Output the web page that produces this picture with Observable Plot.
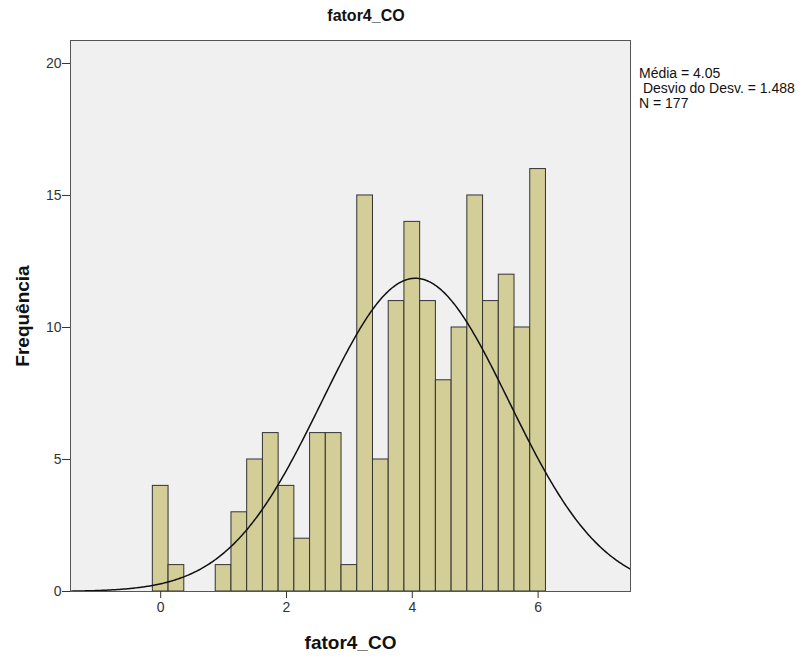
<!DOCTYPE html>
<html>
<head>
<meta charset="utf-8">
<script src="https://cdn.jsdelivr.net/npm/d3@7"></script>
<script src="https://cdn.jsdelivr.net/npm/@observablehq/plot@0.6"></script>
<style>
  body { margin: 0; background: white; font-family: Arial, "Liberation Sans", sans-serif; }
  #wrap { position: relative; width: 807px; height: 660px; }
  #title { position: absolute; left: 0; top: 0; width: 732px; height: 39px; text-align: center;
           font-weight: bold; font-size: 16px; line-height: 32px; color: #111; z-index: 2; }
  #stats { position: absolute; left: 639px; top: 66px; font-size: 14px; line-height: 15px;
           color: #111; white-space: pre; z-index: 2; }
  #chart { position: absolute; left: 0; top: 39px; z-index: 1; }
</style>
</head>
<body>
<div id="wrap">
  <div id="title"></div>
  <div id="stats"></div>
  <div id="chart"></div>
</div>
<script>
const title = "fator4_CO";
const xLabel = "fator4_CO";
const yLabel = "Frequência";
const statsLines = ["Média = 4.05", " Desvio do Desv. = 1.488", "N = 177"];

// histogram bins (centres) and counts
const binCenters = [0, 0.25, 1.0, 1.25, 1.5, 1.75, 2.0, 2.25, 2.5, 2.75, 3.0, 3.25, 3.5, 3.75, 4.0, 4.25, 4.5, 4.75, 5.0, 5.25, 5.5, 5.75, 6.0];
const counts     = [4, 1, 1, 3, 5, 6, 4, 2, 6, 6, 1, 15, 5, 11, 14, 11, 8, 10, 15, 11, 12, 10, 16];
const binWidth = 0.25;

const mean = 4.05, sd = 1.488, n = 177;
const xTicks = [0, 2, 4, 6];
const yTicks = [0, 5, 10, 15, 20];
const xDomain = [-1.434, 7.469];
const yDomain = [0, 20.87];

const bars = binCenters.map((c, i) => ({x1: c - binWidth / 2, x2: c + binWidth / 2, count: counts[i]}));

// fitted normal curve from the stated mean, sd and N
const curve = d3.range(xDomain[0], xDomain[1] + 0.001, 0.02).map(x => ({
  x, y: n * binWidth / (sd * Math.sqrt(2 * Math.PI)) * Math.exp(-0.5 * ((x - mean) / sd) ** 2)
}));

document.getElementById("title").textContent = title;
document.getElementById("stats").textContent = statsLines.join("\n");

const chart = Plot.plot({
  width: 807,
  height: 621,
  marginTop: 1,
  marginBottom: 69,
  marginLeft: 70,
  marginRight: 177,
  x: {domain: xDomain},
  y: {domain: yDomain},
  style: {fontFamily: "Arial, 'Liberation Sans', sans-serif", fontSize: "14px", color: "#333", background: "transparent"},
  marks: [
    Plot.frame({fill: "#f0f0f0"}),
    Plot.rectY(bars, {x1: "x1", x2: "x2", y: "count", fill: "#d3ce97", stroke: "#333", strokeWidth: 1}),
    Plot.line(curve, {x: "x", y: "y", stroke: "#111", strokeWidth: 1.5}),
    Plot.frame({stroke: "#555", strokeWidth: 1}),
    Plot.axisX({ticks: xTicks, tickSize: 7, tickPadding: 4, label: null, stroke: "#333"}),
    Plot.axisY({ticks: yTicks, tickSize: 8, tickPadding: 1, label: null, stroke: "#333"}),
    Plot.text([xLabel], {text: d => d, frameAnchor: "bottom", dy: 57, fontWeight: "bold", fontSize: 19, fill: "#111"}),
    Plot.text([yLabel], {text: d => d, frameAnchor: "left", textAnchor: "middle", rotate: -90, dx: -48, fontWeight: "bold", fontSize: 19, fill: "#111"})
  ]
});
document.getElementById("chart").appendChild(chart);
</script>
</body>
</html>
